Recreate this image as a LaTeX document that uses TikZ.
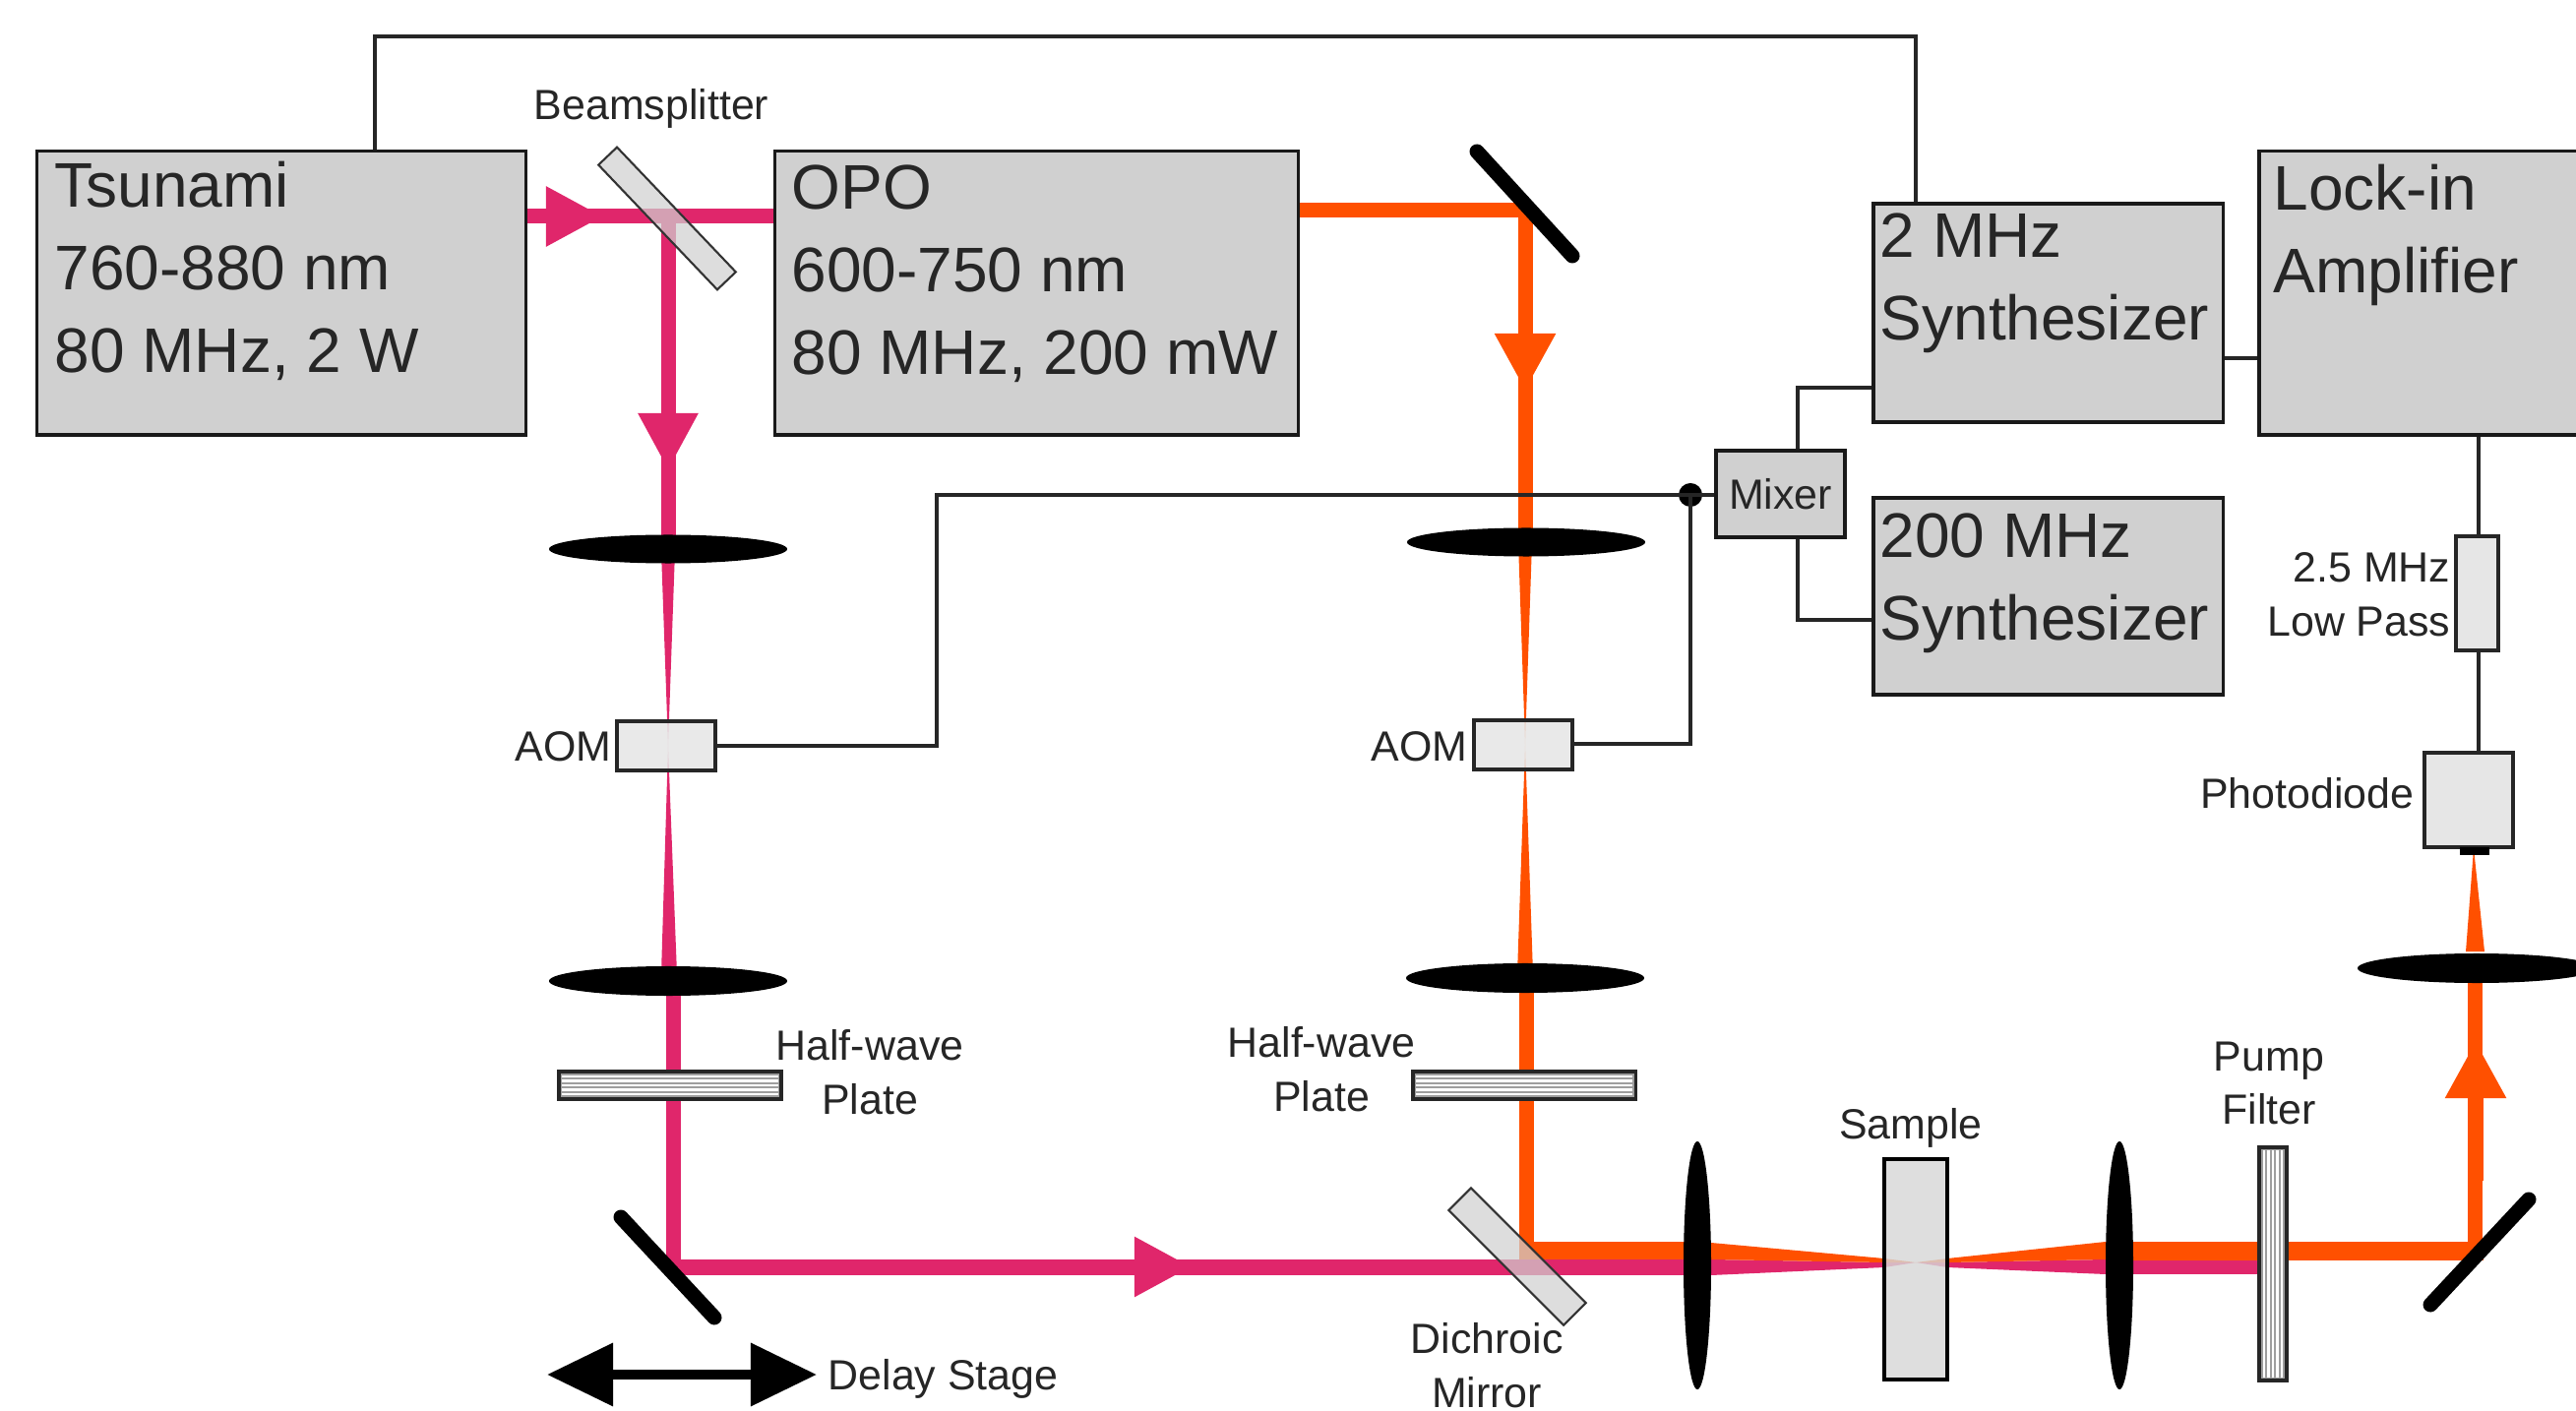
\documentclass[tikz,border=0pt]{standalone}
\usepackage{fontspec}
\setmainfont{Liberation Sans}
\usetikzlibrary{arrows.meta,shapes.geometric}
\definecolor{pumpcol}{HTML}{E0266B}
\definecolor{probecol}{HTML}{FF5000}
\definecolor{boxcol}{HTML}{D0D0D0}
\definecolor{devcol}{HTML}{E6E6E6}
\tikzset{
  specbox/.style={draw=black!90,fill=boxcol,line width=.9pt,inner sep=0pt},
  boxtext/.style={anchor=north west,inner sep=0pt,align=left,text=black!85,font=\fontsize{18.2}{23.9}\selectfont},
  lbl/.style={inner sep=0pt,align=center,text=black!85,font=\fontsize{12.2}{15.6}\selectfont},
  devbox/.style={draw=black!85,fill=devcol,fill opacity=.88,line width=.9pt,inner sep=0pt},
  wire/.style={draw=black!85,line width=1pt},
  lensblack/.style={ellipse,fill=black,inner sep=0pt},
  mirrorbar/.style={black,line width=.15cm,line cap=round},
  splitter/.style={rectangle,draw=black!80,fill=boxcol,fill opacity=.72,line width=.6pt,inner sep=0pt},
  wplate/.style={rectangle,draw=black!85,fill=black!38,line width=.9pt,inner sep=0pt},
  hatchline/.style={white,line width=.6pt},
  pumpbeam/.style={pumpcol,line width=.15cm},
  probebeam/.style={probecol,line width=.15cm},
  pumphead/.style={pumpbeam,-{Triangle[length=.58cm,width=.57cm]}},
  probehead/.style={probebeam,-{Triangle[length=.58cm,width=.58cm]}}
}
\begin{document}
\begin{tikzpicture}[x=.01cm,y=-.01cm]
\clip (0,0) rectangle (2618,1434);
%%% pump beam
\draw[pumpbeam] (534,220) -- (788,220);
\draw[pumphead] (534,220) -- (613,220);
\draw[pumpbeam] (679,220) -- (679,558);
\draw[pumphead] (679,220) -- (679,478);
\fill[pumpcol] (672,560) -- (686,560) -- (679,758) -- cycle;
\fill[pumpcol] (672,990) -- (688,990) -- (679,758) -- cycle;
\draw[pumpbeam] (684,997) -- (684,1295);
\draw[pumpcol,line width=.16cm] (676,1287.5) -- (1725,1287.5);
\draw[pumphead] (1100,1287.5) -- (1211,1287.5);
\fill[pumpcol] (1725,1280) rectangle (1739,1296);
\fill[pumpcol] (1739,1280) -- (1915,1283) -- (1947,1283) -- (1915,1288) -- (1739,1296) -- cycle;
\fill[pumpcol] (2140,1280) -- (1979,1283) -- (1947,1283) -- (1979,1288) -- (2140,1295) -- cycle;
\fill[pumpcol] (2140,1280) rectangle (2296,1295);
%%% probe beam
\draw[probebeam] (1319,214) -- (1550,214);
\draw[probebeam] (1550,207) -- (1550,551);
\draw[probehead] (1550,214) -- (1550,397);
\fill[probecol] (1543,551) -- (1557,551) -- (1550,757) -- cycle;
\fill[probecol] (1542,990) -- (1558,990) -- (1550,757) -- cycle;
\draw[probebeam] (1551,990) -- (1551,1262);
\fill[probecol] (1544,1262) rectangle (1739,1280);
\fill[probecol] (1739,1263) -- (1915,1279) -- (1947,1283) -- (1915,1283) -- (1739,1280) -- cycle;
\fill[probecol] (2140,1262) -- (1979,1279) -- (1947,1283) -- (1979,1283) -- (2140,1280) -- cycle;
\fill[probecol] (2140,1262) rectangle (2524,1281);
\draw[probebeam] (2515,1275) -- (2515,984);
\draw[probehead] (2516,1200) -- (2516,1058);
\fill[probecol] (2506,967) -- (2525,967) -- (2514,862) -- cycle;
%%% sources and electronics
\node[specbox,minimum width=4.96cm,minimum height=2.88cm] (tsunami) at (286,298) {};
\node[boxtext] (tsunamitext) at (55,163) {Tsunami\\760-880 nm\\80 MHz, 2 W};
\node[specbox,minimum width=5.31cm,minimum height=2.88cm] (opo) at (1053.5,298) {};
\node[boxtext] (opotext) at (804,167) {OPO\\600-750 nm\\80 MHz, 200 mW};
\node[specbox,minimum width=3.55cm,minimum height=2.22cm] (synthtwo) at (2081.5,318) {};
\node[boxtext] (synthtwotext) at (1910,216) {2 MHz\\Synthesizer};
\node[specbox,minimum width=3.55cm,minimum height=2cm] (synthhigh) at (2081.5,606) {};
\node[boxtext] (synthhightext) at (1910,521) {200 MHz\\Synthesizer};
\node[specbox,minimum width=3.44cm,minimum height=2.88cm] (lockin) at (2468,298) {};
\node[boxtext] (lockintext) at (2310,166) {Lock-in\\Amplifier};
\node[specbox,lbl,minimum width=1.31cm,minimum height=.88cm] (mixer) at (1809.5,502) {Mixer};
\node[devbox,minimum width=1cm,minimum height=.5cm] (aomone) at (677,758) {};
\node[devbox,minimum width=1cm,minimum height=.5cm] (aomtwo) at (1548,757) {};
\node[devbox,fill opacity=1,minimum width=.43cm,minimum height=1.16cm] (lowpass) at (2517.5,603) {};
\node[devbox,fill opacity=1,minimum width=.9cm,minimum height=.96cm] (diode) at (2509,813) {};
\node[rectangle,fill=black,minimum width=.3cm,minimum height=.07cm,inner sep=0pt] (diodewin) at (2515,865) {};
\node[circle,fill=black,minimum size=.24cm,inner sep=0pt] (junction) at (1718,503) {};
%%% wires
\draw[wire] (tsunami.north -| 381,0) |- (1947,37) -- (synthtwo.north -| 1947,0);
\draw[wire] (synthtwo.west |- 0,394) -| (mixer.north -| 1827,0);
\draw[wire] (synthhigh.west |- 0,630) -| (mixer.south -| 1827,0);
\draw[wire] (synthtwo.east |- 0,364) -- (lockin.west |- 0,364);
\draw[wire] (mixer.west |- 0,503) -- (junction.center) -- (952,503) |- (aomone.east);
\draw[wire] (junction.center) -- (1718,756) -- (aomtwo.east |- 0,756);
\draw[wire] (lockin.south -| 2519,0) -- (lowpass.north -| 2519,0);
\draw[wire] (lowpass.south -| 2519,0) -- (diode.north -| 2519,0);
%%% lenses
\node[lensblack,minimum width=2.42cm,minimum height=.29cm] (lensa) at (679,558) {};
\node[lensblack,minimum width=2.42cm,minimum height=.3cm] (lensb) at (679,997) {};
\node[lensblack,minimum width=2.42cm,minimum height=.29cm] (lensc) at (1551,551) {};
\node[lensblack,minimum width=2.42cm,minimum height=.3cm] (lensd) at (1550,994) {};
\node[lensblack,minimum width=2.42cm,minimum height=.3cm] (lense) at (2517,984) {};
\node[lensblack,minimum width=.28cm,minimum height=2.52cm] (lensf) at (1725,1286) {};
\node[lensblack,minimum width=.28cm,minimum height=2.52cm] (lensg) at (2154,1286) {};
%%% mirrors
\coordinate (mirrorat) at (1501,154);
\coordinate (mirrorab) at (1598,260);
\draw[mirrorbar] (mirrorat) -- (mirrorab);
\coordinate (mirrorbt) at (631,1237);
\coordinate (mirrorbb) at (726,1339);
\draw[mirrorbar] (mirrorbt) -- (mirrorbb);
\coordinate (mirrorct) at (2570,1219);
\coordinate (mirrorcb) at (2470,1326);
\draw[mirrorbar] (mirrorct) -- (mirrorcb);
\node[splitter,minimum width=1.75cm,minimum height=.26cm,rotate=-46.4] (bsplit) at (678,222) {};
\node[splitter,minimum width=1.65cm,minimum height=.32cm,rotate=-45] (dichroic) at (1542,1277) {};
%%% sample, plates and filter
\node[devbox,draw=black,fill=boxcol!85,fill opacity=.82,line width=1.2pt,minimum width=.64cm,minimum height=2.24cm] (sample) at (1947,1290) {};
\node[wplate,minimum width=2.26cm,minimum height=.28cm] (plateone) at (681,1103) {};
\node[wplate,minimum width=2.26cm,minimum height=.28cm] (platetwo) at (1549,1103) {};
\node[wplate,minimum width=.28cm,minimum height=2.37cm] (filter) at (2310,1284.5) {};
\foreach \yy in {1094,1098.5,...,1113} {
  \draw[hatchline] (571,\yy) -- (791,\yy);
  \draw[hatchline] (1439,\yy) -- (1659,\yy);
}
\foreach \xx in {2301,2305.5,...,2320}
  \draw[hatchline] (\xx,1169) -- (\xx,1400);
%%% double arrow of the stage
\coordinate (stageleft) at (556,1397);
\coordinate (stageright) at (830,1397);
\draw[black,line width=.1cm,{Triangle[length=.67cm,width=.62cm]}-{Triangle[length=.67cm,width=.62cm]}] (stageleft) -- (stageright);
%%% labels
\node[lbl] (bslabel) at (662,110) {Beamsplitter};
\node[lbl,anchor=west] (stagelabel) at (841,1401) {Delay Stage};
\node[lbl] (hwonelabel) at (884,1090) {Half-wave\\Plate};
\node[lbl] (hwtwolabel) at (1343,1087) {Half-wave\\Plate};
\node[lbl,anchor=east] (aomonelabel) at (622,759) {AOM};
\node[lbl,anchor=east] (aomtwolabel) at (1492,759) {AOM};
\node[lbl,align=right,anchor=east] (lowlabel) at (2491,604) {2.5 MHz\\Low Pass};
\node[lbl,anchor=east] (diodelabel) at (2454,806) {Photodiode};
\node[lbl] (filterlabel) at (2306,1101) {Pump\\Filter};
\node[lbl] (samplelabel) at (1942,1146) {Sample};
\node[lbl] (dichroiclabel) at (1511,1388) {Dichroic\\Mirror};
\end{tikzpicture}
\end{document}
